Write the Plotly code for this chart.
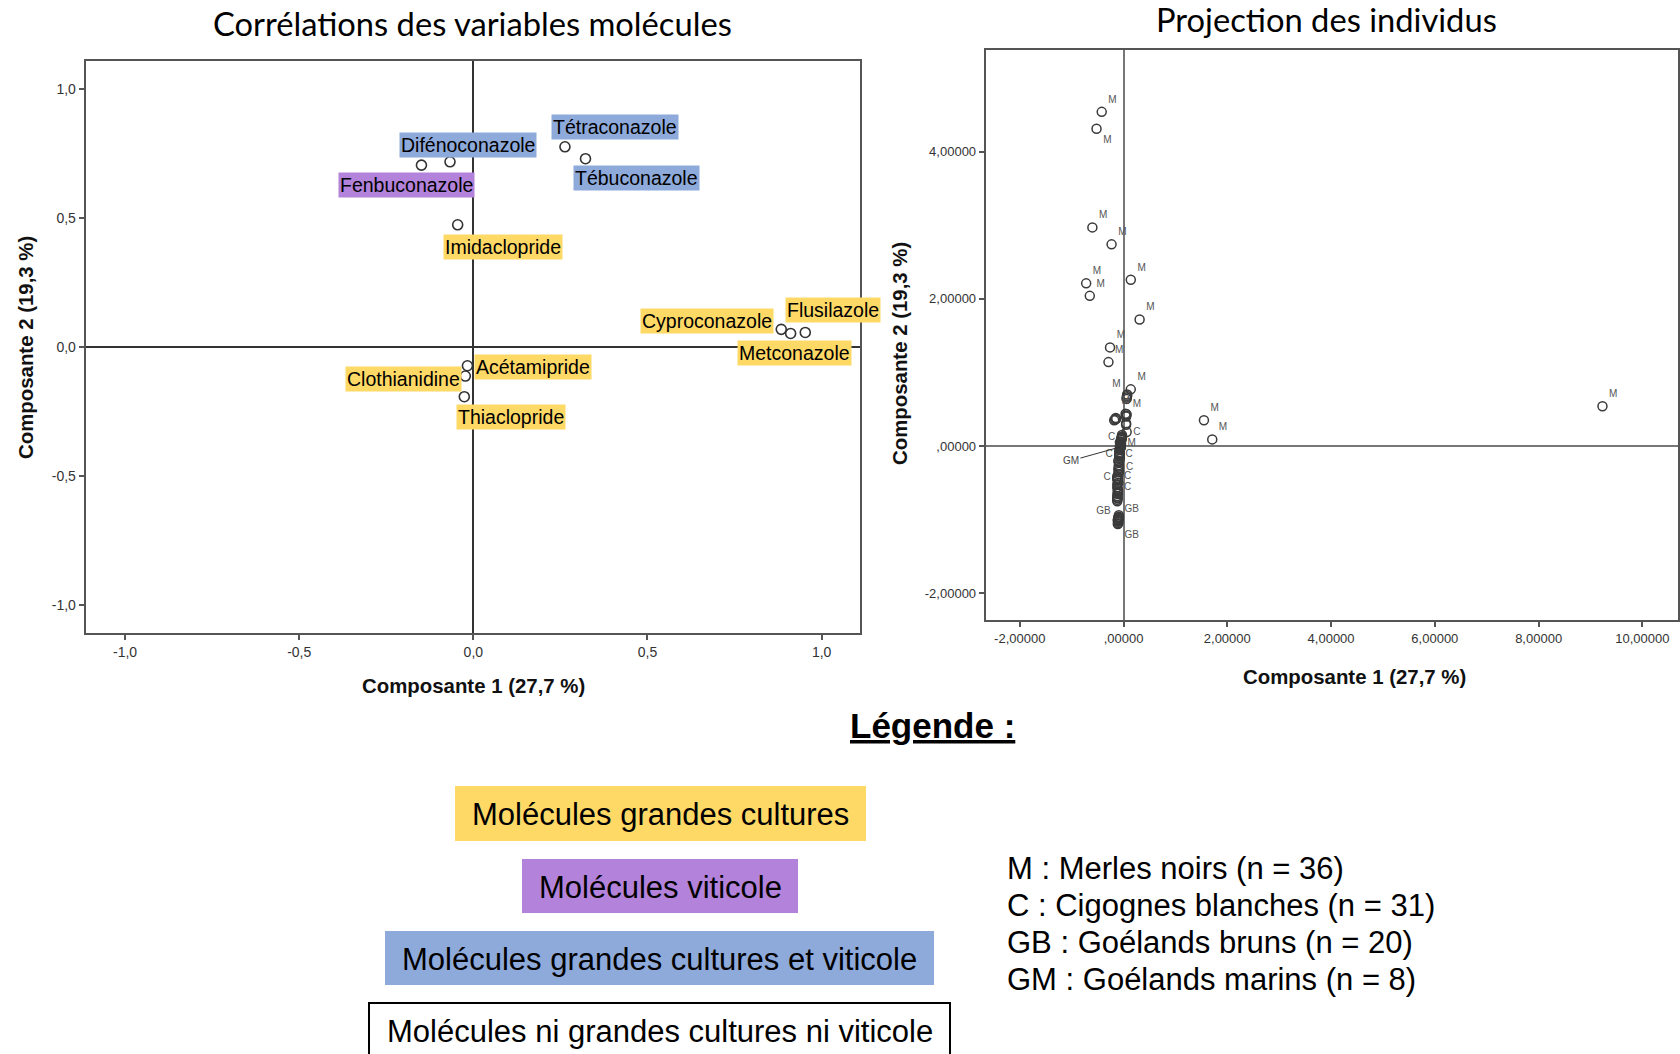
import plotly.graph_objects as go

W, H = 1680, 1054

# ---------------- Data: correlations of molecule variables ----------------
mol_names = ["Difénoconazole", "Fenbuconazole", "Tétraconazole", "Tébuconazole",
             "Imidaclopride", "Cyproconazole", "Flusilazole", "Metconazole",
             "Acétamipride", "Clothianidine", "Thiaclopride"]
mol_comp1 = [-0.067, -0.149, 0.263, 0.322, -0.045, 0.884, 0.953, 0.911, -0.017, -0.023, -0.026]
mol_comp2 = [0.718, 0.705, 0.776, 0.730, 0.474, 0.069, 0.057, 0.053, -0.072, -0.112, -0.192]
mol_group = ["both", "viti", "both", "both", "gc", "gc", "gc", "gc", "gc", "gc", "gc"]

corr_tickvals = [-1.0, -0.5, 0.0, 0.5, 1.0]
corr_ticktext = ["-1,0", "-0,5", "0,0", "0,5", "1,0"]

# ---------------- Data: projection of individuals ----------------
M_x = [-0.42, -0.52, -0.60, -0.23, -0.72, -0.65, 0.14, 0.31, -0.26, -0.29, 0.14, 0.07,
       0.06, 0.05, 0.04, -0.14, -0.18, 0.05, 1.55, 1.71, 9.23, -0.05, 0.06, 0.07,
       -0.16, 0.05, -0.03, -0.04, -0.03, -0.05, -0.04, 0.06, -0.04, -0.05, 0.05, -0.15]
M_y = [4.54, 4.31, 2.97, 2.74, 2.21, 2.04, 2.26, 1.72, 1.34, 1.14, 0.77, 0.68,
       0.64, 0.41, 0.44, 0.37, 0.35, 0.31, 0.35, 0.09, 0.54, 0.03, 0.66, 0.70,
       0.36, 0.29, 0.13, 0.10, 0.15, 0.06, 0.08, 0.43, 0.11, 0.05, 0.40, 0.38]
C_x = [0.06, -0.03, -0.07, -0.08, -0.08, -0.09, -0.09, -0.12, -0.12, -0.11, -0.12,
       -0.11, -0.08, -0.07, -0.10, -0.09, -0.10, -0.08, -0.06, -0.07, -0.10, -0.11,
       -0.12, -0.09, -0.08, -0.10, -0.11, -0.04, -0.08, -0.09, -0.12]
C_y = [0.19, 0.12, 0.05, -0.12, -0.14, -0.28, -0.26, -0.43, -0.41, -0.44, -0.56,
       -0.58, -0.10, -0.11, -0.20, -0.35, -0.50, -0.05, -0.02, -0.17, -0.38, -0.47,
       -0.52, -0.22, -0.08, -0.32, -0.65, 0.10, -0.13, -0.30, -0.45]
GB_x = [-0.12, -0.11, -0.11, -0.12, -0.11, -0.09, -0.10, -0.11, -0.10, -0.10,
        -0.11, -0.09, -0.12, -0.11, -0.10, -0.09, -0.12, -0.11, -0.10, -0.11]
GB_y = [-0.73, -0.71, -0.65, -0.68, -0.62, -0.96, -1.01, -1.06, -0.98, -1.03,
        -1.00, -0.94, -0.75, -0.60, -1.05, -0.99, -0.70, -0.64, -0.97, -1.02]
GM_x = [-0.05, -0.06, -0.05, -0.06, -0.07, -0.05, -0.06, -0.07]
GM_y = [-0.01, 0.01, 0.02, -0.03, -0.05, 0.03, -0.02, 0.00]

ind_xtickvals = [-2, 0, 2, 4, 6, 8, 10]
ind_xticktext = ["-2,00000", ",00000", "2,00000", "4,00000", "6,00000", "8,00000", "10,00000"]
ind_ytickvals = [-2, 0, 2, 4]
ind_yticktext = ["-2,00000", ",00000", "2,00000", "4,00000"]

# ---------------- Texts ----------------
title_left = "Corrélations des variables molécules"
title_right = "Projection des individus"
x_title = "Composante 1 (27,7 %)"
y_title = "Composante 2 (19,3 %)"
legend_title = "Légende :"
legend_boxes = ["Molécules grandes cultures", "Molécules viticole",
                "Molécules grandes cultures et viticole",
                "Molécules ni grandes cultures ni viticole"]
species_lines = ["M : Merles noirs (n = 36)", "C : Cigognes blanches (n = 31)",
                 "GB : Goélands bruns (n = 20)", "GM : Goélands marins (n = 8)"]

# ---------------- Styles ----------------
group_color = {"gc": "#FFD966", "viti": "#B383DB", "both": "#8EAADB"}
label_shift = {  # pixel offsets of label centres from their points
    "Difénoconazole": (18, 17), "Fenbuconazole": (-15, -20), "Tétraconazole": (50, 20),
    "Tébuconazole": (51, -19), "Imidaclopride": (45, -22), "Cyproconazole": (-74, 8),
    "Flusilazole": (28, 22), "Metconazole": (4, -20), "Acétamipride": (66, -1),
    "Clothianidine": (-62, -3), "Thiaclopride": (47, -20),
}
M_pos = ["top right", "bottom right", "top right", "top right", "top right", "top right",
         "top right", "top right", "top right", "top right", "top right", "top left",
         None, "top right", "top center", None, None, None, "top right", "top right",
         "top right", "middle right"] + [None] * 14
C_pos = ["middle right", "middle left", None, "middle left", "bottom right", "top right",
         None, "middle left", "middle right", None, "middle right"] + [None] * 20
GB_pos = ["bottom left", "bottom right", None, None, None, None, None, "bottom right"] + [None] * 12
GM_pos = [None] * 8

FONT = "Liberation Sans, Arial, sans-serif"
TFONT = "Lato, Open Sans, sans-serif"


def px(x):
    return x / W


def py(y):
    return 1 - y / H


fig = go.Figure()

# Left scatter
fig.add_trace(go.Scatter(
    x=mol_comp1, y=mol_comp2, mode="markers", xaxis="x", yaxis="y",
    marker=dict(symbol="circle-open", size=10, color="#333333",
                line=dict(width=1.6, color="#333333")),
    hoverinfo="skip", showlegend=False))

# Right scatter per group
for lab, xs, ys, pos in [("M", M_x, M_y, M_pos), ("C", C_x, C_y, C_pos),
                         ("GB", GB_x, GB_y, GB_pos), ("GM", GM_x, GM_y, GM_pos)]:
    fig.add_trace(go.Scatter(
        x=xs, y=ys, xaxis="x2", yaxis="y2", mode="markers+text",
        text=[lab if p else "" for p in pos],
        textposition=[p if p else "top right" for p in pos],
        textfont=dict(family=FONT, size=10, color="#555555"),
        marker=dict(symbol="circle-open", size=9, color="#3a3a3a",
                    line=dict(width=1.5, color="#3a3a3a")),
        hoverinfo="skip", showlegend=False, cliponaxis=False))

annotations = []
# Molecule labels
for n, x, y, g in zip(mol_names, mol_comp1, mol_comp2, mol_group):
    dx, dy = label_shift[n]
    annotations.append(dict(
        x=x, y=y, xref="x", yref="y", text=n, showarrow=False,
        xshift=dx, yshift=dy, bgcolor=group_color[g], borderpad=1,
        font=dict(family=FONT, size=19.5, color="#000000")))

# GM leader label
annotations.append(dict(
    x=GM_x[0], y=GM_y[0], xref="x2", yref="y2", text="GM", showarrow=True,
    ax=-50, ay=14, arrowhead=0, arrowwidth=1, arrowcolor="#333333",
    font=dict(family=FONT, size=10, color="#444444")))

# Titles
annotations.append(dict(x=px(472), y=py(23), xref="paper", yref="paper", text=title_left,
                        showarrow=False, font=dict(family=TFONT, size=32.7, color="#000"),
                        xanchor="center", yanchor="middle"))
annotations.append(dict(x=px(1326), y=py(19), xref="paper", yref="paper", text=title_right,
                        showarrow=False, font=dict(family=TFONT, size=32.7, color="#000"),
                        xanchor="center", yanchor="middle"))
# Axis titles
for xc, yc in [(473, 686), (1354, 677)]:
    annotations.append(dict(x=px(xc), y=py(yc), xref="paper", yref="paper",
                            text="<b>%s</b>" % x_title, showarrow=False,
                            font=dict(family=FONT, size=20.4, color="#111"),
                            xanchor="center", yanchor="middle"))
for xc, yc in [(26, 348), (900, 354)]:
    annotations.append(dict(x=px(xc), y=py(yc), xref="paper", yref="paper",
                            text="<b>%s</b>" % y_title, showarrow=False, textangle=-90,
                            font=dict(family=FONT, size=20.4, color="#111"),
                            xanchor="center", yanchor="middle"))

# Legend
annotations.append(dict(x=px(932), y=py(725), xref="paper", yref="paper",
                        text="<b><u>%s</u></b>" % legend_title, showarrow=False,
                        font=dict(family=FONT, size=35, color="#000"),
                        xanchor="center", yanchor="middle"))
box_geo = [(455, 866, 786, 841, "#FFD966", None, 814), (522, 798, 859, 913, "#B383DB", None, 887),
           (385, 934, 931, 985, "#8EAADB", None, 959), (369, 950, 1003, 1062, "#FFFFFF", "#000000", 1031)]
shapes = []
for (x0, x1, y0, y1, fc, lc, yt), txt in zip(box_geo, legend_boxes):
    shapes.append(dict(type="rect", xref="paper", yref="paper",
                       x0=px(x0), x1=px(x1), y0=py(y1), y1=py(y0),
                       fillcolor=fc, line=dict(width=2 if lc else 0, color=lc or fc),
                       layer="below"))
    annotations.append(dict(x=px((x0 + x1) / 2), y=py(yt),
                            xref="paper", yref="paper", text=txt, showarrow=False,
                            font=dict(family=FONT, size=31, color="#000"),
                            xanchor="center", yanchor="middle"))
for i, t in enumerate(species_lines):
    annotations.append(dict(x=px(1005), y=py(868 + 37.2 * i), xref="paper", yref="paper",
                            text=t, showarrow=False,
                            font=dict(family=FONT, size=31, color="#000"),
                            xanchor="left", yanchor="middle"))

axis_common = dict(showgrid=False, showline=True, mirror=True, ticks="outside",
                   ticklen=5, tickwidth=1.5, zeroline=True)

fig.update_layout(
    width=W, height=H, margin=dict(l=0, r=0, t=0, b=0),
    paper_bgcolor="white", plot_bgcolor="white", showlegend=False,
    xaxis=dict(domain=[px(85.7), px(860.3)], range=[-1.113, 1.111], anchor="y",
               tickvals=corr_tickvals, ticktext=corr_ticktext,
               tickfont=dict(family=FONT, size=14, color="#333"),
               linecolor="#555555", linewidth=2, tickcolor="#555555",
               zerolinecolor="#333333", zerolinewidth=2, **axis_common),
    yaxis=dict(domain=[py(633.2), py(61.1)], range=[-1.108, 1.108], anchor="x",
               tickvals=corr_tickvals, ticktext=corr_ticktext,
               tickfont=dict(family=FONT, size=14, color="#333"),
               linecolor="#555555", linewidth=2, tickcolor="#555555",
               zerolinecolor="#333333", zerolinewidth=2, **axis_common),
    xaxis2=dict(domain=[px(985.7), px(1677.8)], range=[-2.656, 10.682], anchor="y2",
                tickvals=ind_xtickvals, ticktext=ind_xticktext,
                tickfont=dict(family=FONT, size=13, color="#333"),
                linecolor="#555555", linewidth=2, tickcolor="#555555",
                zerolinecolor="#777777", zerolinewidth=2, **axis_common),
    yaxis2=dict(domain=[py(620.3), py(50.4)], range=[-2.368, 5.375], anchor="x2",
                tickvals=ind_ytickvals, ticktext=ind_yticktext,
                tickfont=dict(family=FONT, size=13, color="#333"),
                linecolor="#555555", linewidth=2, tickcolor="#555555",
                zerolinecolor="#777777", zerolinewidth=2, **axis_common),
    annotations=annotations, shapes=shapes,
)

fig.write_html("out.html", config={"displayModeBar": False},
               post_script="document.body.style.margin='0';document.body.style.overflow='hidden';")
